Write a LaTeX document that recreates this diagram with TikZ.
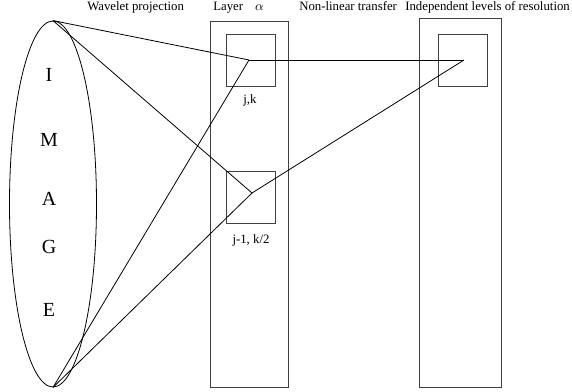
\documentclass[tikz,border=0pt]{standalone}
\usepackage{fontspec}
\setmainfont{Liberation Serif}
\usetikzlibrary{shapes.geometric}

\begin{document}
\begin{tikzpicture}[
    x=0.75pt, y=-0.75pt,
    layer/.style={draw=black!75, rectangle, inner sep=0pt, line width=0.6pt},
    cell/.style={draw=black!75, rectangle, inner sep=0pt, minimum width=36.6pt, minimum height=39pt, line width=0.6pt},
    lbl/.style={font=\fontsize{9.6}{11}\selectfont, inner sep=0pt},
    letter/.style={font=\fontsize{15}{18}\selectfont, inner sep=0pt},
    wire/.style={line width=0.6pt}
]
    \useasboundingbox (0,0) rectangle (572,392);

    % the image
    \node[draw, ellipse, inner sep=0pt, minimum width=65.25pt, minimum height=274.5pt, line width=0.6pt] (img) at (53,204) {};
    \foreach \ch/\yy in {I/75, M/140, A/199, G/247, E/310}
        \node[letter] (l\ch) at (49,\yy) {\ch};

    % layers
    \node[layer, minimum width=58.5pt, minimum height=274.5pt] (layer) at (249,204) {};
    \node[layer, minimum width=61.5pt, minimum height=276.75pt] (levels) at (460,202.5) {};

    \node[cell] (cjk) at (251,60.5) {};
    \node[cell] (cjm) at (251,197.5) {};
    \node[cell] (cres) at (463,60.3) {};

    \coordinate (pjk) at (249,60);
    \coordinate (pjm) at (252,193);
    \coordinate (pres) at (464,60);

    \node[lbl] (ljk) at (250,100) {j,k};
    \node[lbl] (ljm) at (251,240) {j-1, k/2};

    % titles
    \node[lbl, anchor=base west] (twav) at (87,11) {Wavelet projection};
    \node[lbl, anchor=base west] (tlay) at (213,11) {Layer\hspace{9pt}$\alpha$};
    \node[lbl, anchor=base west] (tnon) at (299,11) {Non-linear transfer};
    \node[lbl, anchor=base west] (tind) at (405,11) {Independent levels of resolution};

    % projections
    \draw[wire] (img.north) -- (pjk);
    \draw[wire] (img.north) -- (pjm);
    \draw[wire] (img.south) -- (pjk);
    \draw[wire] (img.south) -- (pjm);
    \draw[wire] (pjk) -- (pres);
    \draw[wire] (pjm) -- (pres);
\end{tikzpicture}
\end{document}
